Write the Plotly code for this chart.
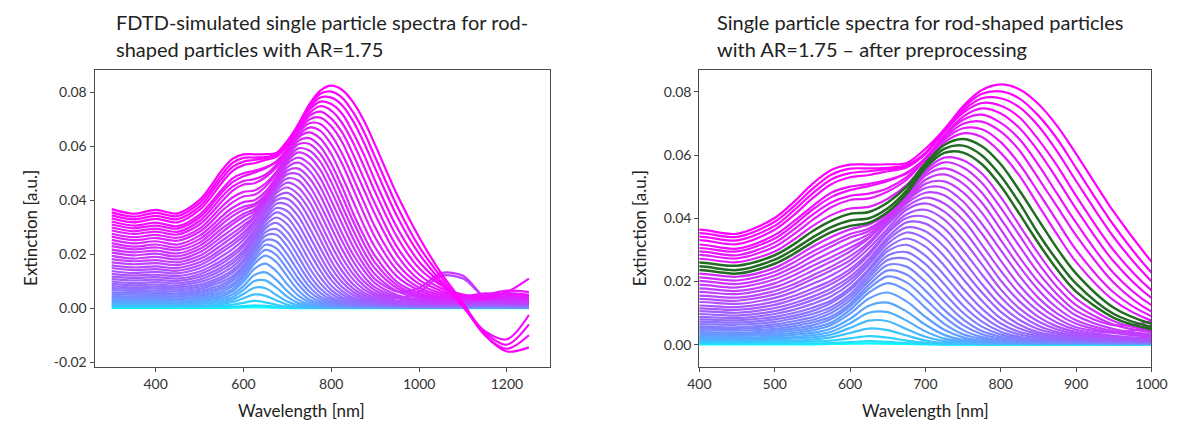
import plotly.graph_objects as go

# Wavelength knots (nm) shared by every spectrum
wavelength_nm = [300, 350, 400, 450, 500, 525, 550, 575, 600, 625, 650, 675, 700, 725,
                 750, 775, 800, 825, 850, 875, 900, 950, 1000, 1050, 1100, 1150, 1200, 1250]

# Extinction, in units of 1e-4 a.u. (largest particle first)
ext_00 = [367, 350, 364, 351, 401, 451, 509, 553, 570, 570, 571, 575, 620, 681, 755, 806, 824, 808, 762, 692, 604, 420, 263, 130, 20, -100, -160, -145]
ext_01 = [355, 339, 353, 341, 389, 437, 493, 538, 557, 558, 560, 569, 607, 681, 749, 794, 802, 779, 725, 651, 559, 378, 228, 115, 10, -100, -150, -100]
ext_02 = [344, 329, 342, 330, 376, 424, 478, 523, 543, 549, 556, 563, 604, 677, 741, 780, 780, 751, 692, 611, 518, 340, 201, 100, 10, -90, -135, -60]
ext_03 = [333, 318, 331, 318, 364, 409, 463, 508, 530, 537, 549, 561, 606, 674, 734, 765, 756, 719, 649, 566, 471, 298, 172, 90, 5, -85, -115, -25]
ext_04 = [321, 306, 317, 304, 347, 390, 438, 481, 500, 509, 522, 542, 590, 663, 722, 748, 732, 685, 612, 523, 430, 263, 148, 85, 45, 35, 60, 110]
ext_05 = [310, 296, 306, 295, 336, 378, 427, 467, 489, 502, 518, 544, 591, 662, 712, 728, 702, 650, 569, 477, 386, 226, 125, 74, 51, 40, 55, 45]
ext_06 = [299, 285, 295, 283, 323, 364, 411, 450, 471, 478, 495, 530, 585, 654, 699, 706, 674, 614, 526, 436, 346, 196, 105, 65, 45, 50, 65, 60]
ext_07 = [288, 275, 284, 273, 310, 349, 394, 435, 458, 463, 485, 522, 586, 649, 685, 682, 641, 571, 482, 390, 300, 165, 90, 56, 45, 55, 50, 40]
ext_08 = [276, 263, 272, 261, 295, 332, 375, 410, 431, 436, 462, 505, 575, 640, 669, 657, 607, 534, 441, 348, 262, 140, 76, 49, 40, 45, 55, 50]
ext_09 = [265, 252, 260, 250, 283, 317, 359, 392, 414, 420, 450, 500, 574, 632, 651, 628, 571, 487, 395, 304, 225, 117, 66, 42, 40, 40, 45, 40]
ext_10 = [253, 240, 248, 236, 269, 301, 339, 372, 393, 400, 432, 488, 566, 620, 630, 599, 534, 448, 351, 266, 193, 97, 56, 38, 35, 38, 40, 36]
ext_11 = [241, 228, 236, 225, 256, 287, 324, 356, 376, 386, 420, 478, 559, 607, 608, 571, 502, 413, 321, 237, 168, 85, 49, 34, 32, 35, 38, 34]
ext_12 = [230, 218, 225, 215, 243, 274, 310, 341, 365, 380, 415, 473, 551, 592, 584, 542, 467, 377, 288, 208, 146, 74, 44, 31, 30, 32, 35, 30]
ext_13 = [217, 207, 213, 203, 231, 260, 294, 323, 350, 368, 408, 467, 543, 577, 561, 512, 433, 345, 257, 182, 125, 63, 39, 28, 28, 30, 32, 28]
ext_14 = [206, 196, 202, 192, 219, 246, 280, 311, 339, 360, 405, 465, 535, 558, 535, 481, 398, 311, 227, 159, 107, 62, 75, 130, 120, 40, 25, 30]
ext_15 = [194, 184, 190, 181, 207, 233, 264, 293, 322, 350, 400, 458, 522, 539, 510, 449, 365, 276, 198, 138, 92, 49, 32, 22, 25, 30, 28, 24]
ext_16 = [182, 174, 178, 170, 194, 219, 249, 277, 307, 340, 392, 452, 509, 517, 482, 417, 331, 247, 173, 116, 77, 42, 27, 20, 22, 25, 30, 26]
ext_17 = [170, 163, 167, 160, 182, 205, 234, 263, 295, 337, 398, 455, 496, 496, 453, 382, 299, 217, 148, 98, 66, 37, 25, 18, 20, 24, 22, 20]
ext_18 = [159, 151, 155, 149, 170, 191, 219, 247, 280, 324, 387, 447, 481, 473, 425, 351, 266, 187, 126, 83, 55, 38, 60, 120, 110, 40, 20, 25]
ext_19 = [149, 141, 145, 139, 159, 180, 207, 235, 267, 318, 381, 437, 465, 447, 395, 316, 234, 161, 106, 69, 47, 28, 20, 16, 18, 22, 20, 18]
ext_20 = [138, 130, 135, 129, 148, 167, 192, 219, 254, 305, 368, 427, 447, 421, 364, 285, 203, 137, 88, 57, 40, 25, 17, 15, 16, 20, 22, 18]
ext_21 = [127, 121, 124, 119, 136, 154, 177, 203, 239, 291, 358, 413, 427, 396, 332, 254, 175, 114, 73, 48, 34, 21, 15, 14, 15, 18, 16, 15]
ext_22 = [117, 112, 115, 110, 126, 143, 165, 192, 229, 284, 353, 401, 405, 368, 299, 222, 150, 96, 60, 40, 29, 19, 13, 12, 14, 16, 15, 13]
ext_23 = [108, 103, 106, 101, 116, 131, 152, 178, 215, 271, 340, 387, 383, 340, 268, 192, 125, 78, 49, 34, 24, 16, 12, 11, 12, 14, 13, 12]
ext_24 = [99, 93, 97, 92, 106, 121, 141, 166, 205, 262, 331, 371, 359, 310, 237, 165, 104, 63, 39, 28, 21, 14, 11, 10, 11, 13, 12, 11]
ext_25 = [90, 85, 88, 84, 97, 110, 129, 153, 193, 253, 320, 355, 335, 280, 208, 139, 83, 51, 33, 24, 18, 13, 10, 9, 10, 12, 11, 10]
ext_26 = [82, 77, 80, 77, 88, 100, 117, 140, 180, 240, 307, 336, 310, 250, 177, 114, 67, 40, 27, 19, 15, 11, 9, 8, 9, 11, 10, 9]
ext_27 = [75, 71, 73, 70, 80, 91, 107, 132, 172, 233, 296, 316, 282, 220, 150, 92, 53, 32, 22, 17, 14, 10, 8, 7, 8, 10, 9, 8]
ext_28 = [68, 64, 65, 63, 72, 83, 97, 119, 159, 222, 282, 293, 255, 191, 124, 73, 41, 25, 17, 14, 12, 9, 7, 7, 8, 9, 8, 7]
ext_29 = [59, 57, 58, 55, 64, 74, 87, 110, 150, 212, 268, 272, 228, 163, 101, 57, 32, 20, 14, 11, 10, 8, 7, 6, 7, 8, 7, 6]
ext_30 = [53, 50, 52, 50, 57, 66, 78, 100, 140, 201, 252, 247, 199, 136, 80, 43, 25, 16, 12, 10, 9, 7, 6, 6, 6, 7, 7, 6]
ext_31 = [46, 44, 46, 44, 50, 58, 70, 89, 129, 189, 235, 222, 171, 110, 62, 33, 19, 13, 10, 9, 8, 6, 5, 5, 5, 6, 6, 5]
ext_32 = [40, 38, 40, 37, 44, 51, 61, 81, 121, 178, 216, 197, 144, 88, 46, 24, 14, 10, 8, 7, 7, 5, 5, 4, 5, 5, 5, 4]
ext_33 = [34, 33, 34, 33, 38, 44, 53, 70, 110, 165, 195, 171, 117, 66, 33, 18, 10, 8, 7, 6, 6, 5, 4, 4, 4, 4, 4, 4]
ext_34 = [29, 28, 29, 28, 32, 37, 45, 62, 98, 146, 165, 137, 88, 47, 23, 12, 8, 6, 5, 5, 5, 4, 4, 3, 3, 4, 3, 3]
ext_35 = [24, 23, 24, 22, 26, 31, 37, 51, 82, 123, 133, 105, 63, 31, 15, 8, 6, 5, 4, 4, 4, 3, 3, 3, 3, 3, 3, 3]
ext_36 = [20, 19, 19, 18, 21, 24, 30, 41, 68, 101, 103, 76, 42, 19, 10, 5, 4, 4, 3, 3, 3, 3, 2, 2, 2, 2, 2, 2]
ext_37 = [16, 15, 15, 14, 16, 19, 23, 32, 53, 76, 74, 49, 25, 11, 6, 4, 3, 3, 3, 2, 2, 2, 2, 2, 2, 2, 2, 2]
ext_38 = [11, 11, 11, 10, 11, 12, 16, 23, 37, 51, 46, 29, 13, 5, 3, 2, 2, 2, 2, 2, 2, 1, 1, 1, 1, 1, 1, 1]
ext_39 = [7, 7, 7, 7, 7, 8, 10, 13, 20, 27, 22, 13, 6, 3, 2, 1, 1, 1, 1, 1, 1, 1, 1, 1, 1, 1, 1, 1]
ext_40 = [3, 3, 3, 3, 3, 3, 4, 5, 8, 11, 9, 5, 2, 1, 1, 1, 1, 1, 1, 1, 1, 1, 1, 1, 1, 1, 1, 1]
ext_41 = [1, 1, 1, 1, 1, 1, 1, 2, 3, 4, 3, 2, 1, 0, 0, 0, 0, 0, 0, 0, 0, 0, 0, 0, 0, 0, 0, 0]

spectra = [ext_00, ext_01, ext_02, ext_03, ext_04, ext_05, ext_06, ext_07, ext_08, ext_09,
           ext_10, ext_11, ext_12, ext_13, ext_14, ext_15, ext_16, ext_17, ext_18, ext_19,
           ext_20, ext_21, ext_22, ext_23, ext_24, ext_25, ext_26, ext_27, ext_28, ext_29,
           ext_30, ext_31, ext_32, ext_33, ext_34, ext_35, ext_36, ext_37, ext_38, ext_39,
           ext_40, ext_41]
highlighted = [9, 10, 11]          # spectra drawn in green on the right panel
UNIT = 1e-4

left_xticks = [400, 600, 800, 1000, 1200]
left_yticks = [-0.02, 0.0, 0.02, 0.04, 0.06, 0.08]
left_yticklabels = ["-0.02", "0.00", "0.02", "0.04", "0.06", "0.08"]
right_xticks = [400, 500, 600, 700, 800, 900, 1000]
right_yticks = [0.0, 0.02, 0.04, 0.06, 0.08]
right_yticklabels = ["0.00", "0.02", "0.04", "0.06", "0.08"]

N = len(spectra)


def cool(j):
    t = ((N - 1 - j) / (N - 1)) ** 0.55
    return f"rgb({round(255 * t)},{round(255 * (1 - t))},255)"


fig = go.Figure()
LW = 2.2
for j in reversed(range(N)):
    y = [v * UNIT for v in spectra[j]]
    fig.add_trace(go.Scatter(x=wavelength_nm, y=y, mode="lines", xaxis="x", yaxis="y",
                             line=dict(color=cool(j), width=LW, shape="spline", smoothing=0.9),
                             showlegend=False, hoverinfo="skip"))
for j in reversed(range(N)):
    if j in highlighted:
        continue
    y = [v * UNIT for v in spectra[j]]
    fig.add_trace(go.Scatter(x=wavelength_nm, y=y, mode="lines", xaxis="x2", yaxis="y2",
                             line=dict(color=cool(j), width=LW, shape="spline", smoothing=0.9),
                             showlegend=False, hoverinfo="skip"))
for j in highlighted:
    y = [v * UNIT for v in spectra[j]]
    fig.add_trace(go.Scatter(x=wavelength_nm, y=y, mode="lines", xaxis="x2", yaxis="y2",
                             line=dict(color="#226b22", width=2.5, shape="spline", smoothing=0.9),
                             showlegend=False, hoverinfo="skip"))

W, H = 1186, 425
ax_common = dict(showline=True, mirror=True, linecolor="#4a4a4a", linewidth=1.2,
                 ticks="outside", ticklen=4, tickcolor="#4a4a4a", showgrid=False,
                 zeroline=False, tickfont=dict(family="Lato", size=14, color="#333333"))
y_dom = [1 - 370 / H, 1 - 70 / H]

fig.update_layout(
    width=W, height=H, margin=dict(l=0, r=0, t=0, b=0),
    paper_bgcolor="white", plot_bgcolor="white", showlegend=False,
    xaxis=dict(domain=[84.6 / W, 551 / W], range=[261, 1298], tickvals=left_xticks,
               anchor="y", **ax_common),
    yaxis=dict(domain=y_dom, range=[-0.0219, 0.0884], tickvals=left_yticks,
               ticktext=left_yticklabels, anchor="x", **ax_common),
    xaxis2=dict(domain=[704 / W, 1167 / W], range=[400, 1000], tickvals=right_xticks,
                anchor="y2", **ax_common),
    yaxis2=dict(domain=y_dom, range=[-0.0072, 0.0871], tickvals=right_yticks,
                ticktext=right_yticklabels, anchor="x2", **ax_common),
)

title_font = dict(family="Lato", size=20, color="#222222")
label_font = dict(family="Lato", size=17, color="#222222")
ann = []
for txt, x, y in [
    ("FDTD-simulated single particle spectra for rod-", 104, 22),
    ("shaped particles with AR=1.75", 104, 49),
    ("Single particle spectra for rod-shaped particles", 720, 22),
    ("with AR=1.75 \u2013 after preprocessing", 720, 49),
]:
    ann.append(dict(text=txt, x=x / W, y=1 - y / H, xref="paper", yref="paper",
                    xanchor="left", yanchor="middle", showarrow=False, font=title_font))
for x in (19, 643):
    ann.append(dict(text="Extinction [a.u.]", x=x / W, y=1 - 230 / H, xref="paper",
                    yref="paper", xanchor="center", yanchor="middle", textangle=-90,
                    showarrow=False, font=label_font))
for x in (296, 936):
    ann.append(dict(text="Wavelength [nm]", x=x / W, y=1 - 413 / H, xref="paper",
                    yref="paper", xanchor="center", yanchor="middle",
                    showarrow=False, font=label_font))
fig.update_layout(annotations=ann)

fig.write_html("out.html")
